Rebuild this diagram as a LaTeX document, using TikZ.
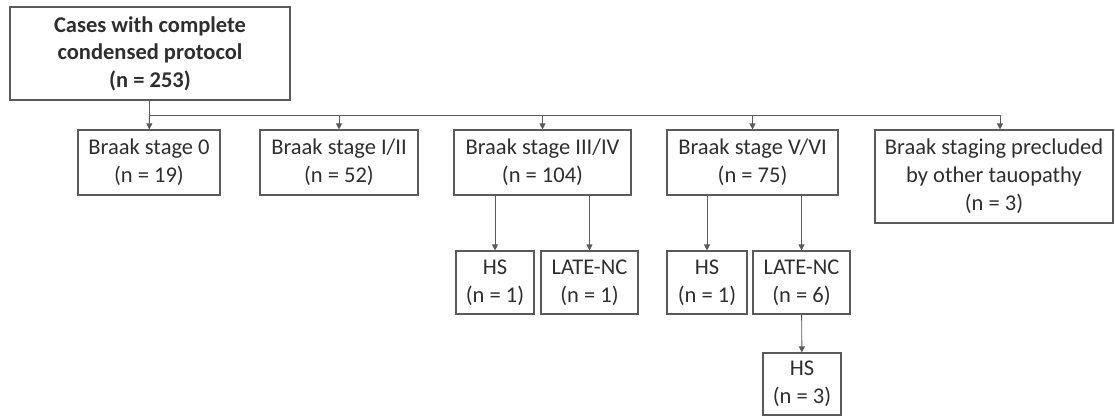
\documentclass[tikz,border=0pt]{standalone}
\usepackage{fontspec}
\setmainfont{Carlito}
\usepackage{xcolor}
\usetikzlibrary{arrows.meta, positioning, calc}
\definecolor{linegray}{HTML}{5A5A5A}
\definecolor{textgray}{HTML}{2E2E2E}
\tikzset{
    box/.style={rectangle, draw=linegray, line width=1.1pt, align=center, text=textgray, inner sep=2pt, font=\fontsize{22.5}{28}\selectfont},
    rootbox/.style={box, font=\fontsize{22.5}{27.5}\selectfont\bfseries},
    arr/.style={draw=linegray, line width=0.9pt, -{Triangle[length=6pt, width=6pt]}},
}

\begin{document}
\begin{tikzpicture}[x=1pt, y=1pt]
\useasboundingbox (0,0) rectangle (1115,417);

% === ROOT ===
\node[rootbox, minimum width=280, minimum height=93] (root) at (150, 363.5) {Cases with complete\\condensed protocol\\(n = 253)};

% === BRAAK STAGES ===
\node[box, minimum width=142, minimum height=65] (b0) at (149, 254.5) {Braak stage 0\\(n = 19)};
\node[box, minimum width=158, minimum height=65] (b12) at (339, 254.5) {Braak stage I/II\\(n = 52)};
\node[box, minimum width=177, minimum height=65] (b34) at (542.5, 254.5) {Braak stage III/IV\\(n = 104)};
\node[box, minimum width=171, minimum height=65] (b56) at (752.5, 254.5) {Braak stage V/VI\\(n = 75)};
\node[box, minimum width=238, minimum height=93] (bother) at (994, 240.5) {Braak staging precluded\\by other tauopathy\\(n = 3)};

% === SUBGROUPS ===
\node[box, minimum width=78, minimum height=63] (hs34) at (495, 134.5) {HS\\(n = 1)};
\node[box, minimum width=97, minimum height=63] (late34) at (589.5, 134.5) {LATE-NC\\(n = 1)};
\node[box, minimum width=80, minimum height=63] (hs56) at (707, 134.5) {HS\\(n = 1)};
\node[box, minimum width=97, minimum height=63] (late56) at (801.5, 134.5) {LATE-NC\\(n = 6)};
\node[box, minimum width=78, minimum height=62] (hs56b) at (802, 33) {HS\\(n = 3)};

% === CONNECTORS ===
\coordinate (split) at (150, 302);
\draw[arr] (root) -- (b0);
\draw[arr] (split) -| (b12);
\draw[arr] (split) -| (b34);
\draw[arr] (split) -| (b56);
\draw[arr] (split) -| (bother.north -| 1000,0);

\draw[arr] (hs34.north |- b34.south) -- (hs34);
\draw[arr] (late34.north |- b34.south) -- (late34);
\draw[arr] (hs56.north |- b56.south) -- (hs56);
\draw[arr] (late56.north |- b56.south) -- (late56);
\draw[arr] (late56) -- (hs56b);

\end{tikzpicture}
\end{document}
